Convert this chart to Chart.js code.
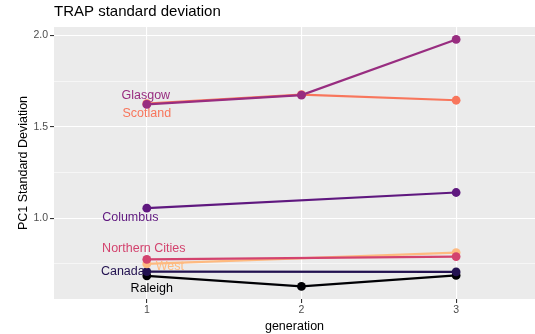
<!DOCTYPE html>
<html>
<head>
<meta charset="utf-8">
<script src="https://cdn.jsdelivr.net/npm/chart.js@4"></script>
<style>
  html, body { margin: 0; padding: 0; background: #ffffff; }
  #wrap { width: 535px; height: 334px; position: relative; }
</style>
</head>
<body>
<div id="wrap"><canvas id="chart" width="535" height="334"></canvas></div>
<script>
// Generations on the x axis
const generations = [1, 2, 3];

// PC1 standard deviation per dialect region (null = not measured)
const glasgow        = [1.622, 1.673, 1.978];
const scotland       = [1.626, 1.676, 1.645];
const columbus       = [1.054, null, 1.140];
const northernCities = [0.774, null, 0.789];
const west           = [0.749, null, 0.811];
const canada         = [0.707, null, 0.705];
const raleigh        = [0.684, 0.626, 0.686];

const regionNames = ['Glasgow', 'Scotland', 'Columbus', 'Northern Cities', 'West', 'Canada', 'Raleigh'];
const regionValues = [glasgow, scotland, columbus, northernCities, west, canada, raleigh];

// Tick labels
const xTicks = [1, 2, 3];
const yMajorTicks = [1.0, 1.5, 2.0];
const yMinorTicks = [0.75, 1.25, 1.75];

const titleText = 'TRAP standard deviation';
const xTitle = 'generation';
const yTitle = 'PC1 Standard Deviation';

// magma palette
const colors = {
  'Glasgow': '#982D80',
  'Scotland': '#F8765C',
  'Columbus': '#5F187F',
  'Northern Cities': '#D3436E',
  'West': '#FEBA80',
  'Canada': '#221150',
  'Raleigh': '#000004'
};

// label offsets (px) from each series' first point
const labelOffsets = {
  'Glasgow': [-1, -9],
  'Scotland': [0, 9.5],
  'Columbus': [-16.5, 9.5],
  'Northern Cities': [-3, -11],
  'West': [23, 3],
  'Canada': [-24, 0],
  'Raleigh': [5, 12.5]
};

const FONT = '"Liberation Sans", Arial, Helvetica, sans-serif';

const datasets = regionNames.map((name, i) => ({
  label: name,
  data: generations.map((g, j) => ({ x: g, y: regionValues[i][j] })),
  borderColor: colors[name],
  backgroundColor: colors[name],
  pointBackgroundColor: colors[name],
  pointBorderColor: colors[name],
  borderWidth: 2.2,
  pointRadius: 4.4,
  pointBorderWidth: 0,
  pointHoverRadius: 4.4,
  spanGaps: true,
  tension: 0
}));

const panelBackground = {
  id: 'panelBackground',
  beforeDraw(chart) {
    const { ctx, chartArea: a } = chart;
    ctx.save();
    ctx.fillStyle = '#EBEBEB';
    ctx.fillRect(a.left, a.top, a.right - a.left, a.bottom - a.top);
    ctx.restore();
  }
};

const regionLabels = {
  id: 'regionLabels',
  beforeDatasetsDraw(chart) {
    const { ctx } = chart;
    ctx.save();
    ctx.font = '12.5px ' + FONT;
    ctx.textAlign = 'center';
    ctx.textBaseline = 'middle';
    chart.data.datasets.forEach((ds, i) => {
      const meta = chart.getDatasetMeta(i);
      const p = meta.data[0];
      const off = labelOffsets[ds.label];
      ctx.fillStyle = colors[ds.label];
      ctx.fillText(ds.label, p.x + off[0], p.y + off[1]);
    });
    ctx.restore();
  }
};

const plotTitle = {
  id: 'plotTitle',
  afterDraw(chart) {
    const { ctx, chartArea: a } = chart;
    ctx.save();
    ctx.font = '15px ' + FONT;
    ctx.fillStyle = '#000000';
    ctx.textAlign = 'left';
    ctx.textBaseline = 'middle';
    ctx.fillText(titleText, a.left, 12);
    ctx.restore();
  }
};

const isMajor = v => yMajorTicks.some(t => Math.abs(t - v) < 1e-9);

new Chart(document.getElementById('chart'), {
  type: 'line',
  data: { datasets },
  options: {
    responsive: false,
    animation: false,
    devicePixelRatio: 1,
    layout: { autoPadding: false, padding: { top: 27, right: 0, bottom: 0, left: 0 } },
    plugins: {
      legend: { display: false },
      title: { display: false },
      tooltip: { enabled: false }
    },
    scales: {
      x: {
        type: 'linear',
        min: 0.4,
        max: 3.51,
        afterBuildTicks(scale) { scale.ticks = xTicks.map(v => ({ value: v })); },
        afterFit(scale) {
          scale.height = 35;
          scale.paddingLeft = 0;
          scale.paddingRight = 0;
        },
        border: { display: false },
        grid: {
          color: '#FFFFFF',
          lineWidth: 1.1,
          tickColor: '#333333',
          tickLength: 4,
          drawTicks: true
        },
        ticks: {
          font: { family: FONT, size: 10.5 },
          color: '#4D4D4D',
          padding: 1,
          maxRotation: 0,
          autoSkip: false,
          callback: v => String(v)
        },
        title: {
          display: true,
          text: xTitle,
          font: { family: FONT, size: 12.5 },
          color: '#000000',
          padding: { top: 8.5, bottom: 0 }
        }
      },
      y: {
        type: 'linear',
        min: 0.557,
        max: 2.046,
        afterBuildTicks(scale) {
          scale.ticks = [...yMinorTicks, ...yMajorTicks].sort((a, b) => a - b).map(v => ({ value: v }));
        },
        afterFit(scale) {
          scale.width = 54;
          scale.paddingTop = 0;
          scale.paddingBottom = 0;
        },
        border: { display: false },
        grid: {
          color: '#FFFFFF',
          lineWidth: ctx => (ctx.tick && isMajor(ctx.tick.value)) ? 1.1 : 0.55,
          tickColor: ctx => (ctx.tick && isMajor(ctx.tick.value)) ? '#333333' : 'rgba(0,0,0,0)',
          tickLength: 4,
          drawTicks: true
        },
        ticks: {
          font: { family: FONT, size: 10.5 },
          color: '#4D4D4D',
          padding: 2,
          autoSkip: false,
          callback: v => isMajor(v) ? v.toFixed(1) : ''
        },
        title: {
          display: true,
          text: yTitle,
          font: { family: FONT, size: 12.5 },
          color: '#000000',
          padding: { top: 16, bottom: 0 }
        }
      }
    }
  },
  plugins: [panelBackground, regionLabels, plotTitle]
});
</script>
</body>
</html>
